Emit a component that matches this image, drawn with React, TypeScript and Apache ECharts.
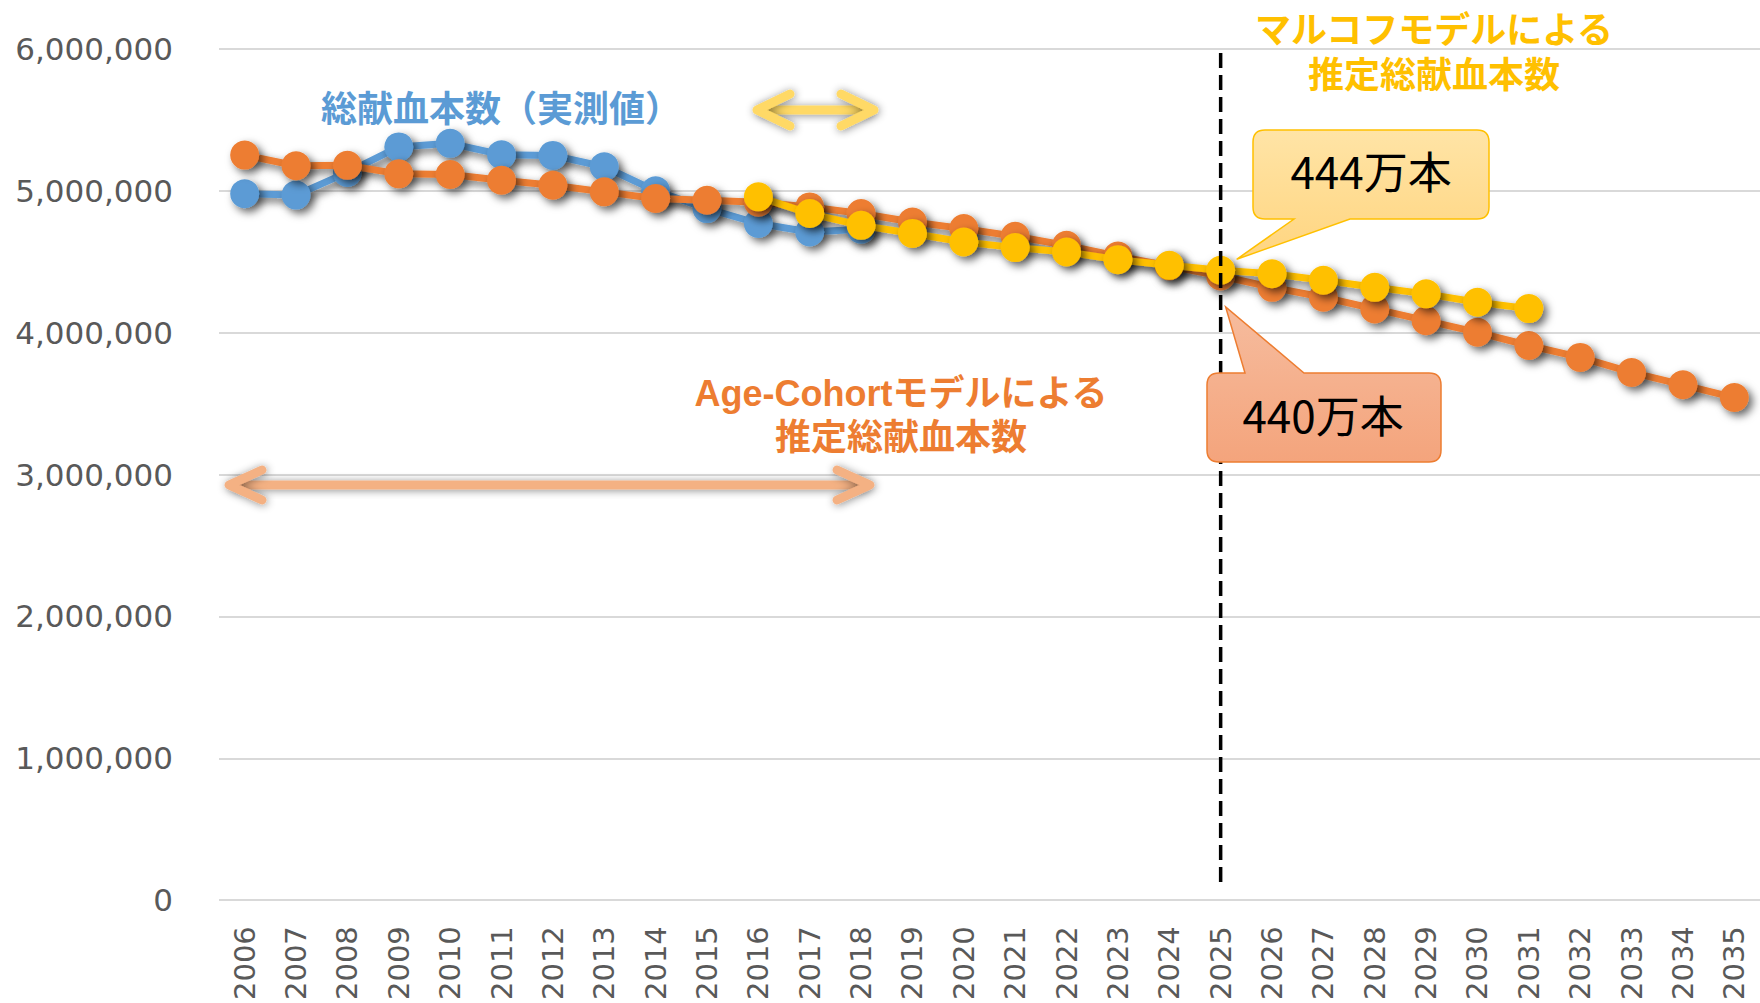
import React, { useEffect, useRef } from "react";
import * as echarts from "echarts";

// ---------- data ----------
const years = [
  "2006", "2007", "2008", "2009", "2010", "2011", "2012", "2013", "2014", "2015",
  "2016", "2017", "2018", "2019", "2020", "2021", "2022", "2023", "2024", "2025",
  "2026", "2027", "2028", "2029", "2030", "2031", "2032", "2033", "2034", "2035",
];

// 総献血本数（実測値） 2006–2018
const actualDonations = [
  4980000, 4970000, 5130000, 5310000, 5335000, 5255000, 5250000, 5170000,
  5000000, 4875000, 4770000, 4710000, 4730000,
];

// Age-Cohortモデルによる推定総献血本数 2006–2035
const ageCohortEstimate = [
  5252000, 5177000, 5180000, 5120000, 5115000, 5075000, 5040000, 4993000,
  4946000, 4934000, 4920000, 4887000, 4840000, 4780000, 4734000, 4680000,
  4616000, 4540000, 4470000, 4400000, 4320000, 4250000, 4168000, 4085000,
  4003000, 3910000, 3826000, 3720000, 3633000, 3543000,
];

// マルコフモデルによる推定総献血本数 2016–2031
const markovStartYear = "2016";
const markovEstimate = [
  4958000, 4840000, 4757000, 4700000, 4640000, 4600000, 4569000, 4515000,
  4475000, 4440000, 4416000, 4370000, 4320000, 4274000, 4215000, 4170000,
];

const highlightYear = "2025";
const markovCalloutText = "444万本";
const ageCohortCalloutText = "440万本";

const actualTitle = "総献血本数（実測値）";
const markovTitle = "マルコフモデルによる\n推定総献血本数";
const ageCohortTitle = "Age-Cohortモデルによる\n推定総献血本数";

const yMin = 0;
const yMax = 6000000;
const yInterval = 1000000;

// ---------- colors ----------
const BLUE = "#5B9BD5";
const ORANGE = "#ED7D31";
const YELLOW = "#FFC000";
const AXIS_TEXT = "#595959";
const GRID = "#D9D9D9";

function padSeries(values: number[], startIndex: number, total: number) {
  const out: (number | null)[] = [];
  for (let i = 0; i < total; i++) {
    const j = i - startIndex;
    out.push(j >= 0 && j < values.length ? values[j] : null);
  }
  return out;
}

function calloutPath(
  x0: number, y0: number, x1: number, y1: number, r: number,
  side: "top" | "bottom", b1: number, b2: number, tx: number, ty: number
) {
  if (side === "bottom") {
    return (
      `M${x0 + r},${y0} L${x1 - r},${y0} Q${x1},${y0} ${x1},${y0 + r} ` +
      `L${x1},${y1 - r} Q${x1},${y1} ${x1 - r},${y1} ` +
      `L${b2},${y1} L${tx},${ty} L${b1},${y1} ` +
      `L${x0 + r},${y1} Q${x0},${y1} ${x0},${y1 - r} ` +
      `L${x0},${y0 + r} Q${x0},${y0} ${x0 + r},${y0} Z`
    );
  }
  return (
    `M${x0 + r},${y0} L${b1},${y0} L${tx},${ty} L${b2},${y0} ` +
    `L${x1 - r},${y0} Q${x1},${y0} ${x1},${y0 + r} ` +
    `L${x1},${y1 - r} Q${x1},${y1} ${x1 - r},${y1} ` +
    `L${x0 + r},${y1} Q${x0},${y1} ${x0},${y1 - r} ` +
    `L${x0},${y0 + r} Q${x0},${y0} ${x0 + r},${y0} Z`
  );
}

function arrowGroup(x0: number, x1: number, y: number, color: string, head: number, spread: number, width: number) {
  const shadow = {
    shadowBlur: 8,
    shadowColor: "rgba(0,0,0,0.45)",
    shadowOffsetX: 1,
    shadowOffsetY: 1,
  };
  const headStyle = { stroke: color, lineWidth: width, lineCap: "round", lineJoin: "round", fill: null, ...shadow };
  return {
    type: "group",
    z: 5,
    children: [
      {
        type: "rect",
        shape: { x: x0 + 3, y: y - width / 2, width: x1 - x0 - 6, height: width, r: width / 2 },
        style: { fill: color, ...shadow },
      },
      {
        type: "polyline",
        shape: { points: [[x0 + head, y - spread], [x0, y], [x0 + head, y + spread]] },
        style: { ...headStyle },
      },
      {
        type: "polyline",
        shape: { points: [[x1 - head, y - spread], [x1, y], [x1 - head, y + spread]] },
        style: { ...headStyle },
      },
    ],
  };
}

export default function App() {
  const ref = useRef<HTMLDivElement>(null);

  useEffect(() => {
    document.body.style.margin = "0";
    document.body.style.overflow = "hidden";
    if (!ref.current) return;
    const chart = echarts.init(ref.current, undefined, { renderer: "svg" });

    const n = years.length;
    const actualData = padSeries(actualDonations, 0, n);
    const ageData = padSeries(ageCohortEstimate, 0, n);
    const markovData = padSeries(markovEstimate, years.indexOf(markovStartYear), n);

    const lineShadow = {
      shadowBlur: 8,
      shadowColor: "rgba(0,0,0,0.6)",
      shadowOffsetX: 4,
      shadowOffsetY: 4,
    };

    const mkSeries = (name: string, data: (number | null)[], color: string, z: number) => ({
      name,
      type: "line",
      data,
      z,
      symbol: "circle",
      symbolSize: 29,
      showSymbol: true,
      connectNulls: false,
      lineStyle: { color, width: 7, ...lineShadow },
      itemStyle: { color, borderWidth: 0, ...lineShadow },
      emphasis: { disabled: true },
    });

    chart.setOption({
      animation: false,
      backgroundColor: "#ffffff",
      grid: { left: 219, top: 49, width: 1548, height: 852, containLabel: false },
      xAxis: {
        type: "category",
        data: years,
        boundaryGap: true,
        axisLine: { show: false },
        axisTick: { show: false },
        axisLabel: {
          rotate: 90,
          interval: 0,
          margin: 26,
          color: AXIS_TEXT,
          fontSize: 29,
          fontFamily: "DejaVu Sans",
        },
      },
      yAxis: {
        type: "value",
        min: yMin,
        max: yMax,
        interval: yInterval,
        axisLine: { show: false },
        axisTick: { show: false },
        splitLine: { lineStyle: { color: GRID, width: 2 } },
        axisLabel: {
          margin: 46,
          color: AXIS_TEXT,
          fontSize: 31,
          fontFamily: "DejaVu Sans",
          formatter: (v: number) => v.toLocaleString("en-US"),
        },
      },
      series: [
        mkSeries("総献血本数（実測値）", actualData, BLUE, 2),
        mkSeries("Age-Cohortモデルによる推定総献血本数", ageData, ORANGE, 3),
        mkSeries("マルコフモデルによる推定総献血本数", markovData, YELLOW, 4),
      ],
    });

    const hi = years.indexOf(highlightYear);
    const pMarkov = chart.convertToPixel({ xAxisIndex: 0, yAxisIndex: 0 }, [hi, markovData[hi] as number]) as number[];
    const pAge = chart.convertToPixel({ xAxisIndex: 0, yAxisIndex: 0 }, [hi, ageData[hi] as number]) as number[];
    const hx = pMarkov[0];

    // callout shapes
    const d1 = calloutPath(1253, 130, 1489, 219, 12, "bottom", 1294, 1350, pMarkov[0] + 16, pMarkov[1] - 11);
    const d2 = calloutPath(1207, 373, 1441, 462, 12, "top", 1245, 1304, pAge[0] + 5, pAge[1] + 31);
    echarts.graphic.registerShape("calloutMarkov", echarts.graphic.extendPath(d1, {}));
    echarts.graphic.registerShape("calloutAge", echarts.graphic.extendPath(d2, {}));

    const jp = '"Noto Sans CJK JP", "Noto Sans", sans-serif';
    const jpTight = '"Liberation Sans", "Noto Sans CJK JP", sans-serif';

    const label = (text: string, x: number, y: number, fill: string, size: number, align = "center", lineHeight = 46, family = jp) => ({
      type: "text",
      z: 20,
      x,
      y,
      style: {
        text,
        fill,
        fontSize: size,
        fontWeight: "bold",
        fontFamily: family,
        align,
        verticalAlign: "middle",
        lineHeight,
      },
    });

    chart.setOption({
      graphic: [
        {
          type: "line",
          z: 20,
          shape: { x1: hx, y1: 53, x2: hx, y2: 888 },
          style: { stroke: "#000000", lineWidth: 3.5, lineDash: [15, 7] },
        },
        label(actualTitle, 321, 106, BLUE, 36, "left"),
        label(markovTitle, 1434, 53, YELLOW, 36, "center", 45, jpTight),
        label(ageCohortTitle, 901, 415, ORANGE, 36, "center", 44, jpTight),
        arrowGroup(757, 874, 110, "#FFD966", 33, 16, 9),
        arrowGroup(229, 870, 485, "#F4B183", 33, 15, 9),
        {
          type: "calloutMarkov",
          z: 21,
          style: {
            fill: new echarts.graphic.LinearGradient(0, 0, 0, 1, [
              { offset: 0, color: "#FFE4A6" },
              { offset: 1, color: "#FFD580" },
            ]),
            stroke: YELLOW,
            lineWidth: 1.5,
          },
        },
        {
          type: "text",
          z: 22,
          x: 1371,
          y: 170,
          style: {
            text: markovCalloutText,
            fill: "#000000",
            fontSize: 44,
            fontFamily: jp,
            align: "center",
            verticalAlign: "middle",
          },
        },
        {
          type: "calloutAge",
          z: 21,
          style: {
            fill: new echarts.graphic.LinearGradient(0, 0, 0, 1, [
              { offset: 0, color: "#F6BC9E" },
              { offset: 1, color: "#F4A47C" },
            ]),
            stroke: ORANGE,
            lineWidth: 1.5,
          },
        },
        {
          type: "text",
          z: 22,
          x: 1323,
          y: 414,
          style: {
            text: ageCohortCalloutText,
            fill: "#000000",
            fontSize: 44,
            fontFamily: jp,
            align: "center",
            verticalAlign: "middle",
          },
        },
      ],
    });

    return () => {
      chart.dispose();
    };
  }, []);

  return <div ref={ref} style={{ width: 1760, height: 1003 }} />;
}
